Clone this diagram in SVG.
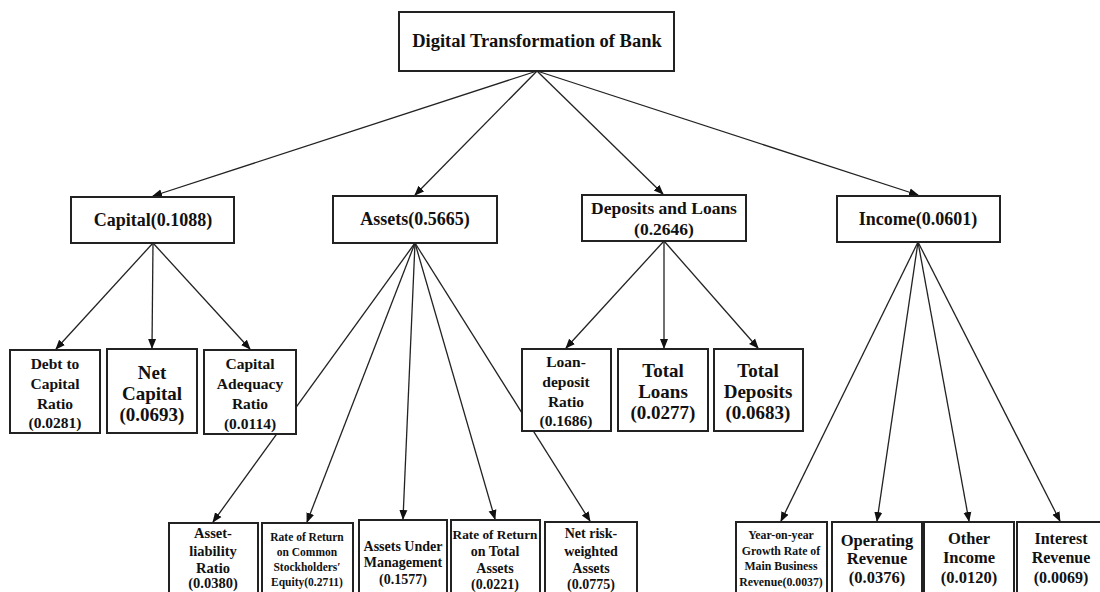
<svg xmlns="http://www.w3.org/2000/svg" width="1100" height="592" viewBox="0 0 1100 592">
<defs>
<marker id="ah" markerWidth="10" markerHeight="10" refX="9" refY="5" orient="auto" markerUnits="userSpaceOnUse">
<path d="M0,1 L10,5 L0,9 Z" fill="#111"/>
</marker>
<style>
.box{fill:#fff;stroke:#222;stroke-width:2}
.t{font-family:"Liberation Serif","Times New Roman",serif;font-weight:bold;fill:#111;text-anchor:middle}
.c line{stroke:#222;stroke-width:1.3;marker-end:url(#ah)}
</style>
</defs>
<rect width="1100" height="592" fill="#fff"/>
<g class="c" id="connectors">
<line x1="537" y1="71" x2="153" y2="196"/>
<line x1="537" y1="71" x2="415" y2="195"/>
<line x1="537" y1="71" x2="663" y2="194"/>
<line x1="537" y1="71" x2="918" y2="195"/>
<line x1="153" y1="243" x2="56" y2="349"/>
<line x1="153" y1="243" x2="152" y2="348"/>
<line x1="153" y1="243" x2="250" y2="349"/>
<line x1="415" y1="243" x2="213" y2="522"/>
<line x1="415" y1="243" x2="307" y2="522"/>
<line x1="415" y1="243" x2="403" y2="519"/>
<line x1="415" y1="243" x2="495" y2="519"/>
<line x1="415" y1="243" x2="590" y2="521"/>
<line x1="664" y1="241" x2="566" y2="348"/>
<line x1="664" y1="241" x2="664" y2="348"/>
<line x1="664" y1="241" x2="758" y2="348"/>
<line x1="918" y1="242" x2="781" y2="521"/>
<line x1="918" y1="242" x2="877" y2="521"/>
<line x1="918" y1="242" x2="969" y2="521"/>
<line x1="918" y1="242" x2="1060" y2="521"/>
</g>
<g id="root"><rect class="box" x="399" y="12" width="275" height="59"/><text class="t" x="537" y="47" font-size="18.5">Digital Transformation of Bank</text></g>
<g id="capital"><rect class="box" x="71" y="197" width="163" height="46"/><text class="t" x="153" y="226" font-size="18">Capital(0.1088)</text></g>
<g id="assets"><rect class="box" x="333" y="196" width="164" height="47"/><text class="t" x="415" y="225" font-size="18">Assets(0.5665)</text></g>
<g id="deposits"><rect class="box" x="582" y="195" width="164" height="46"/><text class="t" x="664" y="214" font-size="17.5">Deposits and Loans</text><text class="t" x="664" y="235" font-size="17.5">(0.2646)</text></g>
<g id="income"><rect class="box" x="837" y="196" width="163" height="46"/><text class="t" x="918" y="225" font-size="18">Income(0.0601)</text></g>
<g id="debt"><rect class="box" x="10" y="350" width="90" height="83"/><text class="t" font-size="15.5" x="55"><tspan x="55" y="369">Debt to</tspan><tspan x="55" y="389">Capital</tspan><tspan x="55" y="409">Ratio</tspan><tspan x="55" y="428">(0.0281)</tspan></text></g>
<g id="netcapital"><rect class="box" x="107" y="349" width="90" height="84"/><text class="t" font-size="19" x="152"><tspan x="152" y="379">Net</tspan><tspan x="152" y="400">Capital</tspan><tspan x="152" y="421">(0.0693)</tspan></text></g>
<g id="capadeq"><rect class="box" x="204" y="350" width="92" height="84"/><text class="t" font-size="15.5" x="250"><tspan x="250" y="369">Capital</tspan><tspan x="250" y="389">Adequacy</tspan><tspan x="250" y="409">Ratio</tspan><tspan x="250" y="429">(0.0114)</tspan></text></g>
<g id="loandeposit"><rect class="box" x="522" y="349" width="89" height="82"/><text class="t" font-size="15.5" x="566"><tspan x="566" y="367">Loan-</tspan><tspan x="566" y="387">deposit</tspan><tspan x="566" y="407">Ratio</tspan><tspan x="566" y="426">(0.1686)</tspan></text></g>
<g id="totalloans"><rect class="box" x="618" y="349" width="90" height="82"/><text class="t" font-size="19" x="663"><tspan x="663" y="377">Total</tspan><tspan x="663" y="398">Loans</tspan><tspan x="663" y="419">(0.0277)</tspan></text></g>
<g id="totaldeposits"><rect class="box" x="714" y="349" width="89" height="82"/><text class="t" font-size="19" x="758"><tspan x="758" y="377">Total</tspan><tspan x="758" y="398">Deposits</tspan><tspan x="758" y="419">(0.0683)</tspan></text></g>
<g id="assetliability"><rect class="box" x="169" y="523" width="89" height="75"/><text class="t" font-size="14.5" x="213"><tspan x="213" y="538">Asset-</tspan><tspan x="213" y="556">liability</tspan><tspan x="213" y="573">Ratio</tspan><tspan x="213" y="588">(0.0380)</tspan></text></g>
<g id="roe"><rect class="box" x="262" y="523" width="91" height="75"/><text class="t" font-size="11.5" x="307"><tspan x="307" y="541">Rate of Return</tspan><tspan x="307" y="556">on Common</tspan><tspan x="307" y="571">Stockholders′</tspan><tspan x="307" y="586">Equity(0.2711)</tspan></text></g>
<g id="aum"><rect class="box" x="359" y="520" width="88" height="78"/><text class="t" font-size="14" x="403"><tspan x="403" y="551">Assets Under</tspan><tspan x="403" y="567">Management</tspan><tspan x="403" y="584">(0.1577)</tspan></text></g>
<g id="roa"><rect class="box" x="451" y="520" width="89" height="78"/><text class="t" font-size="13.3" x="495"><tspan x="495" y="539">Rate of Return</tspan><tspan x="495" y="556" font-size="14">on Total</tspan><tspan x="495" y="573" font-size="14">Assets</tspan><tspan x="495" y="589" font-size="14">(0.0221)</tspan></text></g>
<g id="netrisk"><rect class="box" x="545" y="522" width="92" height="76"/><text class="t" font-size="14" x="591"><tspan x="591" y="538">Net risk-</tspan><tspan x="591" y="556">weighted</tspan><tspan x="591" y="573">Assets</tspan><tspan x="591" y="589">(0.0775)</tspan></text></g>
<g id="yoy"><rect class="box" x="736" y="522" width="91" height="76"/><text class="t" font-size="11.8" x="781"><tspan x="781" y="539">Year-on-year</tspan><tspan x="781" y="555">Growth Rate of</tspan><tspan x="781" y="570">Main Business</tspan><tspan x="781" y="586">Revenue(0.0037)</tspan></text></g>
<g id="operating"><rect class="box" x="832" y="522" width="90" height="76"/><text class="t" font-size="16.5" x="877"><tspan x="877" y="546">Operating</tspan><tspan x="877" y="564">Revenue</tspan><tspan x="877" y="583">(0.0376)</tspan></text></g>
<g id="otherincome"><rect class="box" x="924" y="522" width="90" height="76"/><text class="t" font-size="16.5" x="969"><tspan x="969" y="544">Other</tspan><tspan x="969" y="563">Income</tspan><tspan x="969" y="583">(0.0120)</tspan></text></g>
<g id="interest"><rect class="box" x="1017" y="522" width="88" height="76"/><text class="t" font-size="16" x="1061"><tspan x="1061" y="544">Interest</tspan><tspan x="1061" y="563">Revenue</tspan><tspan x="1061" y="583">(0.0069)</tspan></text></g>
</svg>
